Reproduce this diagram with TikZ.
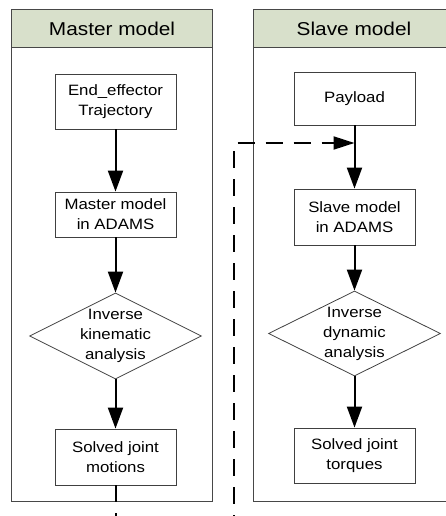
\documentclass[tikz,border=0pt]{standalone}
\usepackage{fontspec}
\setmainfont{Liberation Sans}[FakeStretch=1.12]
\usetikzlibrary{arrows.meta,shapes.geometric}
\definecolor{headgreen}{HTML}{D8E0CB}
\definecolor{lanegray}{HTML}{474747}

\begin{document}
\begin{tikzpicture}[x=1pt, y=-1pt,
  lane/.style={draw=lanegray, line width=1pt, minimum width=201pt, minimum height=492pt, inner sep=0pt},
  head/.style={draw=lanegray, fill=headgreen, line width=1pt, minimum width=201pt, minimum height=38pt,
    inner sep=0pt, font=\fontsize{18.6}{22}\selectfont},
  box/.style={draw=black!75, line width=0.8pt, minimum width=121pt, align=center,
    font=\fontsize{15}{20}\selectfont},
  check/.style={draw=black!75, line width=0.8pt, diamond, minimum width=172pt, minimum height=86pt, inner sep=0pt},
  flow/.style={line width=2pt, -{Triangle[length=21pt,width=15pt]}},
  feed/.style={line width=2pt, dash pattern=on 17pt off 11pt, -{Triangle[length=21pt,width=13pt]}}]
  \useasboundingbox (0,0) rectangle (446,516);
  \clip (0,0) rectangle (446,516);

  \node[lane, anchor=north west] (laneM) at (11,9) {};
  \node[head, anchor=north] (headM) at (laneM.north) {Master model};
  \node[lane, anchor=north west] (laneS) at (253,9) {};
  \node[head, anchor=north] (headS) at (laneS.north) {Slave model};

  \node[box, minimum height=55pt] (traj) at (115.5,101.5) {End\_effector\\Trajectory};
  \node[box, minimum height=45pt] (master) at (115.5,214.5) {Master model\\in ADAMS};
  \node[check, label={[align=center, font=\fontsize{15}{20}\selectfont]center:Inverse\\kinematic\\analysis}] (kin) at (115.5,336) {};
  \node[box, minimum height=56pt] (motions) at (115.5,457) {Solved joint\\motions};

  \node[box, minimum height=53pt] (payload) at (354.5,98.5) {Payload};
  \node[box, minimum height=56pt] (slave) at (354.5,217) {Slave model\\in ADAMS};
  \node[check, minimum height=85pt, label={[align=center, font=\fontsize{15}{20}\selectfont]center:Inverse\\dynamic\\analysis}] (dyn) at (354.5,333.5) {};
  \node[box, minimum height=55pt] (torques) at (354.5,455.5) {Solved joint\\torques};

  \draw[flow] (traj) -- (master);
  \draw[flow] (master) -- (kin);
  \draw[flow] (kin) -- (motions);
  \draw[flow] (payload) -- (slave);
  \draw[flow] (slave) -- (dyn);
  \draw[flow] (dyn) -- (torques);

  \coordinate (exitM) at (motions.south |- laneM.south);
  \coordinate (turn) at (234,143);
  \coordinate (hit) at (354.5,143);
  \draw[line width=2pt] (motions.south) -- (exitM);
  \draw[feed, dash phase=17pt] (exitM) -- ++(0,45) -| (turn) -- (hit);
\end{tikzpicture}
\end{document}
